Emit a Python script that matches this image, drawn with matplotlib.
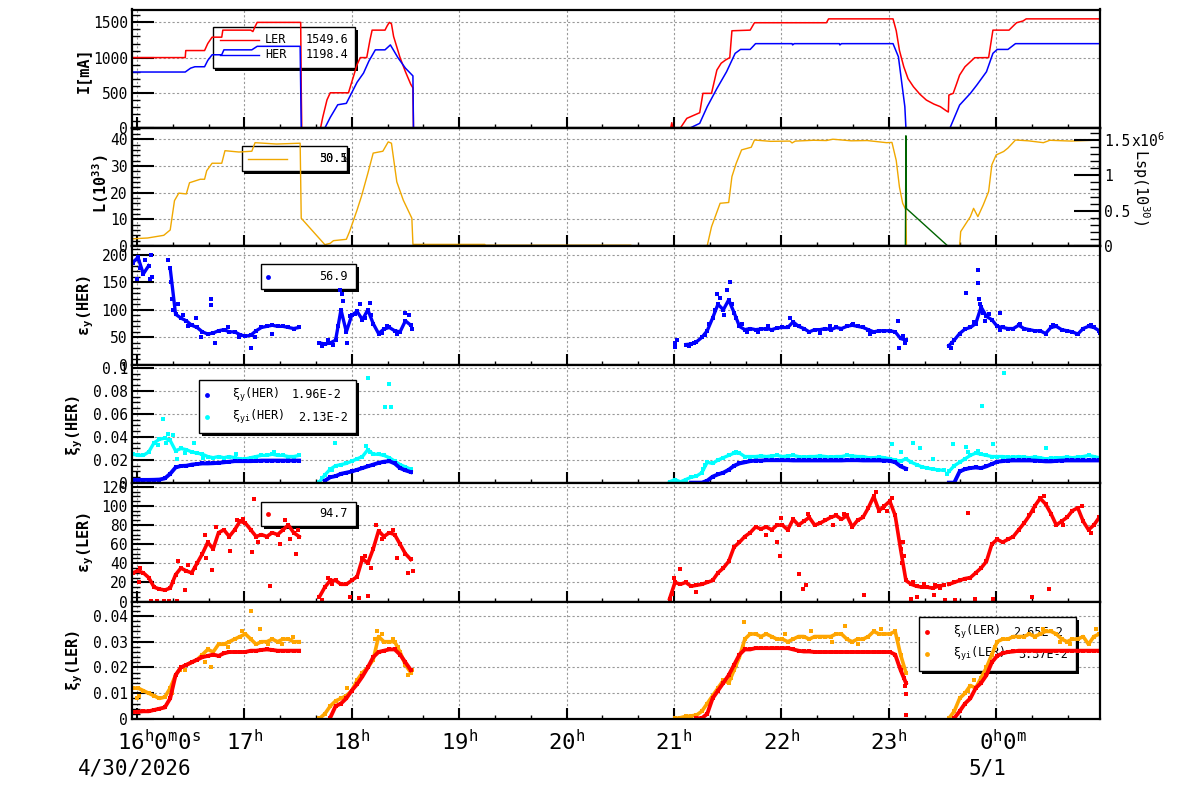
import numpy as np
import matplotlib
matplotlib.use("Agg")
import matplotlib.pyplot as plt
from matplotlib.ticker import MultipleLocator, FuncFormatter, NullFormatter
from matplotlib.patches import Rectangle
from matplotlib.lines import Line2D

plt.rcParams["font.family"] = ["DejaVu Sans Mono"]
plt.rcParams["mathtext.default"] = "regular"

nan = np.nan

# time axis: hours after 16:00 on 4/30/2026
tick_labels = [r"$16^{h}0^{m}0^{s}$", r"$17^{h}$", r"$18^{h}$", r"$19^{h}$", r"$20^{h}$",
               r"$21^{h}$", r"$22^{h}$", r"$23^{h}$", r"$0^{h}0^{m}$"]
date_labels = {0: "4/30/2026", 8: "5/1"}

# ---- panel 1: beam currents [mA] (vertices of the traces)
ler_t = [-0.04, 0.45, 0.455, 0.63, 0.66, 0.70, 0.79, 0.80, 1.06, 1.08, 1.10, 1.12, 1.52, 1.525, 1.53,
         1.535, 1.71, 1.73, 1.77, 1.80, 1.97, 2.01, 2.05, 2.08, 2.14, 2.17, 2.19, 2.31, 2.33, 2.35,
         2.37, 2.39, 2.42, 2.45, 2.50, 2.55, 2.57, 2.575, 4.97, 4.98, 4.99, 5.06, 5.12, 5.24, 5.27,
         5.35, 5.40, 5.44, 5.48, 5.52, 5.54, 5.71, 5.75, 6.42, 6.44, 7.04, 7.07, 7.10, 7.14, 7.18,
         7.23, 7.29, 7.35, 7.42, 7.48, 7.54, 7.555, 7.56, 7.60, 7.63, 7.66, 7.71, 7.76, 7.80, 7.93,
         7.97, 8.12, 8.16, 8.19, 8.25, 8.28, 8.97]
ler_i = [1000, 1000, 1100, 1100, 1200, 1290, 1290, 1390, 1390, 1370, 1440, 1500, 1500, 1500, 560,
         0, 0, 150, 400, 500, 500, 700, 900, 1000, 1000, 1250, 1390, 1390, 1450, 1500,
         1480, 1300, 1150, 1000, 800, 620, 570, 0, 0, 75, 0, 0, 137, 217, 492,
         492, 823, 920, 965, 1000, 1381, 1390, 1495, 1495, 1550, 1550, 1380, 1100, 870, 700,
         586, 480, 397, 340, 303, 240, 227, 468, 492, 620, 752, 870, 941, 998, 1000,
         1390, 1390, 1450, 1495, 1520, 1550, 1550]
her_t = [-0.04, 0.45, 0.50, 0.54, 0.63, 0.66, 0.70, 0.79, 0.81, 1.07, 1.10, 1.12, 1.52, 1.53, 1.75,
         1.80, 1.87, 1.95, 2.00, 2.05, 2.11, 2.16, 2.22, 2.31, 2.36, 2.43, 2.50, 2.57, 2.575, 5.15,
         5.24, 5.31, 5.40, 5.49, 5.57, 5.62, 5.71, 5.76, 6.10, 6.105, 6.12, 6.54, 6.545, 6.56, 7.04,
         7.09, 7.12, 7.15, 7.16, 7.57, 7.66, 7.76, 7.82, 7.91, 7.97, 8.01, 8.11, 8.18, 8.97]
her_i = [795, 795, 850, 870, 870, 960, 1040, 1040, 1110, 1110, 1140, 1160, 1160, 0, 0,
         150, 330, 350, 500, 650, 780, 950, 1110, 1110, 1180, 1000, 850, 740, 0, 0,
         66, 303, 560, 799, 1060, 1116, 1116, 1198, 1198, 1180, 1198, 1198, 1180, 1198, 1198,
         1012, 657, 303, 0, 0, 326, 492, 610, 799, 1060, 1116, 1116, 1198, 1198]

# ---- panel 2: luminosity L [1e33] and Lsp [1e30]
lum_t = [-0.04, 0.10, 0.25, 0.31, 0.35, 0.39, 0.46, 0.49, 0.59, 0.63, 0.65, 0.70, 0.79, 0.82, 0.95,
         1.07, 1.10, 1.30, 1.52, 1.53, 1.75, 1.80, 1.83, 1.95, 1.98, 2.05, 2.09, 2.15, 2.20, 2.29,
         2.34, 2.37, 2.42, 2.48, 2.56, 2.57, 3.24, 3.245, 4.60, 4.605, 5.31, 5.35, 5.43, 5.51, 5.54,
         5.58, 5.63, 5.72, 5.75, 5.90, 6.08, 6.10, 6.13, 6.30, 6.42, 6.48, 6.65, 6.80, 6.98, 7.03,
         7.07, 7.10, 7.13, 7.16, 7.165, 7.66, 7.67, 7.76, 7.79, 7.83, 7.88, 7.93, 7.96, 8.00, 8.07,
         8.11, 8.18, 8.30, 8.44, 8.50, 8.70, 8.97]
lum_v = [2.7, 3.0, 4.0, 6.0, 17.0, 19.8, 19.5, 23.7, 25.0, 25.0, 28.2, 31.0, 31.0, 35.7, 35.2,
         35.5, 38.7, 38.2, 38.5, 10.4, 0.5, 1.0, 2.0, 2.5, 5.4, 13.5, 18.5, 27.2, 34.8, 35.5,
         39.0, 38.5, 24.0, 17.2, 10.4, 0.6, 0.6, 0.3, 0.3, 0.1, 0.1, 7.2, 16.0, 16.3, 26.0,
         31.0, 36.0, 37.0, 39.7, 39.2, 39.3, 38.6, 39.3, 39.6, 39.5, 40.0, 39.4, 39.5, 38.7, 38.8,
         32.0, 22.0, 16.0, 13.5, 0.0, 0.0, 5.4, 11.0, 14.1, 11.0, 15.4, 20.4, 30.4, 34.1, 35.4,
         36.7, 39.7, 39.4, 38.7, 39.6, 39.3, 39.7]
lsp_t = [7.155, 7.16, 7.165, 7.55]
lsp_v = [0.0, 1.56e6, 0.53e6, 0.0]

# ---- scatter series, sampled every DT hours from the start of each run segment
DT = 0.05
T_A, T_B, T_C, T_D = -0.04, 1.70, 4.96, 7.56

# panel 3: vertical emittance HER
eyh_a = [185, 195, 165, 180, nan, nan, nan, 175, 92, 85, 80, 72, 68, 60, 56, 58, 62, 64, 60, 60,
         55, 52, 54, 62, 68, 70, 72, 70, 70, 68, 66, 68]
eyh_b = [40, 38, 40, 45, 100, 60, 90, 97, 82, 100, 75, 57, 65, 68, 62, 60, 80, 72]
eyh_c = [nan, 40, nan, 37, 38, 42, 50, 62, 85, 110, 100, 118, 95, 70, 64, 66, 64, 65, 66, 64,
         67, 68, 68, 78, 70, 66, 60, 64, 64, 66, 64, 68, 66, 70, 72, 70, 68, 64, 60, 62,
         62, 62, 60, 48, 45]
eyh_d = [35, 45, 57, 65, 68, 75, 105, 88, 82, 70, 68, 66, 66, 72, 66, 64, 62, 62, 57, 68,
         70, 64, 62, 60, 56, 66, 70, 68, 62]
eyh_xt = [0.0, 0.03, 0.08, 0.12, 0.13, 0.14, 0.29, 0.32, 0.33, 0.34, 0.38, 0.43, 0.48, 0.55, 0.60,
          0.69, 0.69, 0.73, 0.85, 0.95, 1.06, 1.10, 1.26,
          1.72, 1.78, 1.83, 1.87, 1.89, 1.91, 1.92, 1.96, 1.98, 2.03, 2.08, 2.12, 2.17, 2.18, 2.28,
          2.33, 2.42, 2.50, 2.53, 2.56,
          5.01, 5.03, 5.14, 5.19, 5.29, 5.33, 5.38, 5.40, 5.43, 5.47, 5.49, 5.52, 5.54, 5.58, 5.63,
          5.68, 5.78, 5.88, 6.08, 6.13, 6.36, 6.45, 6.67, 6.83, 7.09, 7.10, 7.13, 7.15,
          7.58, 7.59, 7.72, 7.79, 7.83, 7.835, 7.84, 7.85, 7.88, 7.90, 7.93, 8.04, 8.04, 8.22, 8.53,
          8.75, 8.88, 8.97]
eyh_xv = [155, 175, 190, 155, 200, 160, 190, 150, 120, 100, 110, 90, 70, 85, 50,
          120, 108, 40, 68, 50, 30, 50, 57,
          35, 45, 36, 70, 135, 128, 115, 40, 88, 92, 110, 85, 112, 90, 58,
          70, 56, 95, 90, 65,
          33, 45, 35, 40, 55, 75, 100, 128, 122, 90, 135, 150, 110, 85, 75,
          60, 60, 70, 86, 72, 58, 70, 74, 56, 80, 30, 52, 40,
          30, 40, 130, 78, 172, 148, 120, 110, 95, 80, 92, 94, 63, 75, 72,
          56, 72, 58]

# panel 4: vertical beam-beam parameter HER
xyh_a = [0.0027, 0.0027, 0.0027, 0.0027, 0.0028, 0.003, 0.004, 0.008, 0.0135, 0.0148,
         0.015, 0.016, 0.0165, 0.017, 0.017, 0.0172, 0.0175, 0.018, 0.0185, 0.019,
         0.019, 0.019, 0.019, 0.0192, 0.0195, 0.0195, 0.0195, 0.0195, 0.0195, 0.0195,
         0.0195, 0.0195]
xyh_b = [nan, 0.002, 0.005, 0.006, 0.008, 0.009, 0.010, 0.0115, 0.013, 0.0145, 0.016, 0.0175,
         0.0185, 0.019, 0.017, 0.013, 0.011, 0.0095]
xyh_c = [nan, nan, nan, nan, 0.0003, 0.0003, 0.0003, 0.002, 0.0055, 0.0075,
         0.009, 0.0115, 0.015, 0.017, 0.018, 0.019, 0.0195, 0.0195, 0.0198, 0.0198,
         0.0198, 0.0198, 0.0198, 0.0196, 0.0196, 0.0196, 0.0196, 0.0196, 0.0196, 0.0196,
         0.0196, 0.0196, 0.0196, 0.0198, 0.0198, 0.0198, 0.0196, 0.0196, 0.0196, 0.0196,
         0.0195, 0.0193, 0.018, 0.0145, 0.0125]
xyh_d = [0.0003, 0.0003, 0.010, 0.012, 0.013, 0.0135, 0.013, 0.0145, 0.0165, 0.0185,
         0.019, 0.0195, 0.0196, 0.0196, 0.0196, 0.0196, 0.0195, 0.0192, 0.0188, 0.0188,
         0.0192, 0.0195, 0.0196, 0.0196, 0.0196, 0.0196, 0.0196, 0.0196, 0.0196]
xyih_a = [0.025, 0.024, 0.024, 0.027, 0.035, 0.038, 0.039, 0.037, 0.028, 0.030,
          0.029, 0.027, 0.026, 0.025, 0.023, 0.022, 0.023, 0.022, 0.023, 0.022,
          0.021, 0.021, 0.022, 0.023, 0.024, 0.024, 0.025, 0.024, 0.024, 0.023,
          0.023, 0.024]
xyih_b = [0.001, 0.007, 0.012, 0.015, 0.016, 0.017, 0.019, 0.021, 0.023, 0.029, 0.025, 0.025,
          0.024, 0.022, 0.019, 0.016, 0.014, 0.012]
xyih_c = [0.001, 0.003, 0.001, 0.003, 0.005, 0.006, 0.009, 0.018, 0.017, 0.020,
          0.022, 0.024, 0.026, 0.026, 0.023, 0.023, 0.023, 0.0235, 0.023, 0.0235,
          0.024, 0.023, 0.0235, 0.024, 0.023, 0.0225, 0.023, 0.023, 0.0235, 0.023,
          0.0225, 0.023, 0.023, 0.024, 0.0235, 0.023, 0.023, 0.022, 0.022, 0.0225,
          0.022, 0.021, 0.020, 0.019, 0.021, 0.018, 0.016, 0.014, 0.013, 0.012,
          0.0115, 0.011]
xyih_d = [0.010, 0.015, 0.018, 0.021, 0.024, 0.026, 0.025, 0.024, 0.023, 0.023,
          0.023, 0.0225, 0.0225, 0.023, 0.0225, 0.022, 0.0225, 0.022, 0.021, 0.0215,
          0.022, 0.022, 0.0225, 0.022, 0.0225, 0.023, 0.024, 0.023, 0.022]
xyih_xt = [0.20, 0.24, 0.27, 0.29, 0.34, 0.37, 0.45, 0.53, 0.62, 0.92, 1.28, 1.72, 1.82, 1.84,
           2.13, 2.15, 2.17, 2.31, 2.35, 2.37, 5.27, 5.29, 5.58, 7.03, 7.11, 7.23, 7.29, 7.41,
           7.54, 7.60, 7.72, 7.74, 7.83, 7.87, 7.97, 8.07, 8.46]
xyih_xv = [0.033, 0.056, 0.035, 0.043, 0.042, 0.021, 0.026, 0.035, 0.022, 0.025, 0.027, 0.004,
           0.011, 0.035, 0.032, 0.091, 0.027, 0.066, 0.086, 0.066, 0.012, 0.016, 0.027, 0.034,
           0.027, 0.035, 0.030, 0.021, 0.0075, 0.034, 0.031, 0.027, 0.028, 0.067, 0.034, 0.096,
           0.030]

# panel 5: vertical emittance LER
eyl_a = [30, 32, 30, 25, 15, 13, 12, 14, 28, 35, 32, 30, 40, 50, 62, 55, 72, 75, 68, 75,
         84, 82, 75, 68, 70, 68, 72, 70, 75, 80, 72, 68]
eyl_b = [5, 15, 22, 22, 18, 18, 22, 26, 45, 40, 55, 74, 68, 72, 70, 60, 50, 44]
eyl_c = [3, 20, 18, 20, 16, 17, 18, 20, 22, 30, 35, 42, 57, 62, 68, 72, 78, 76, 78, 75,
         80, 80, 75, 86, 80, 84, 88, 80, 82, 85, 88, 90, 86, 90, 78, 85, 88, 98, 110, 95,
         100, 105, 90, 55, 22, 18, 16, 15, 15, 14, 16, 17]
eyl_d = [18, 20, 22, 24, 25, 30, 35, 42, 60, 65, 62, 65, 68, 75, 82, 90, 100, 108, 102, 92,
         80, 84, 88, 95, 98, 84, 75, 80, 88]
eyl_xt = [0.02, 0.03, 0.13, 0.19, 0.25, 0.30, 0.34, 0.37, 0.38, 0.45, 0.48, 0.54, 0.63, 0.64,
          0.70, 0.74, 0.87, 0.93, 0.99, 1.07, 1.09, 1.13, 1.24, 1.33, 1.38, 1.43, 1.48, 1.50,
          1.72, 1.78, 1.82, 1.98, 2.07, 2.12, 2.15, 2.18, 2.23, 2.28, 2.38, 2.42, 2.52, 2.57,
          4.98, 5.00, 5.06, 5.21, 5.86, 5.96, 5.99, 6.00, 6.16, 6.20, 6.23, 6.25, 6.48, 6.58,
          6.77, 6.88, 6.95, 6.98, 7.03, 7.12, 7.13, 7.14,
          7.21, 7.23, 7.26, 7.33, 7.42, 7.43, 7.48, 7.52, 7.62, 7.74, 7.80, 7.97, 8.33, 8.34,
          8.45, 8.49, 8.62, 8.80, 8.88]
eyl_xv = [20, 35, 1, 1, 1, 1, 20, 1, 42, 12, 38, 35, 70, 45,
          33, 78, 53, 85, 86, 52, 107, 62, 16, 60, 85, 65, 50, 75,
          2, 25, 18, 5, 4, 48, 6, 35, 80, 65, 75, 45, 30, 32,
          8, 25, 34, 10, 70, 62, 48, 87, 29, 13, 17, 92, 80, 92,
          7, 115, 98, 95, 108, 40, 62, 48,
          3, 20, 5, 18, 7, 17, 14, 2, 2, 93, 3, 3, 5, 95,
          110, 13, 80, 100, 72]

# panel 6: vertical beam-beam parameter LER
xyl_a = [0.0027, 0.0028, 0.003, 0.003, 0.0035, 0.004, 0.0045, 0.008, 0.017, 0.020,
         0.021, 0.022, 0.023, 0.024, 0.0245, 0.025, 0.0245, 0.0255, 0.026, 0.026,
         0.026, 0.026, 0.0265, 0.0265, 0.0268, 0.027, 0.0268, 0.0265, 0.0265, 0.0265,
         0.0265, 0.0265]
xyl_b = [nan, nan, 0.0005, 0.005, 0.006, 0.008, 0.011, 0.0135, 0.0165, 0.020, 0.024, 0.026,
         0.0265, 0.027, 0.027, 0.025, 0.022, 0.019]
xyl_c = [nan, nan, nan, nan, nan, 0.0003, 0.0003, 0.002, 0.008, 0.011,
         0.014, 0.017, 0.021, 0.025, 0.027, 0.027, 0.0275, 0.0275, 0.0275, 0.0275,
         0.0275, 0.0275, 0.0275, 0.027, 0.0265, 0.0262, 0.0262, 0.026, 0.026, 0.026,
         0.026, 0.026, 0.026, 0.026, 0.026, 0.026, 0.026, 0.026, 0.026, 0.026,
         0.026, 0.026, 0.025, 0.019, 0.014]
xyl_d = [nan, 0.0003, 0.003, 0.006, 0.008, 0.012, 0.014, 0.017, 0.022, 0.0245,
         0.0255, 0.026, 0.0262, 0.0265, 0.0265, 0.0265, 0.0265, 0.0265, 0.0265, 0.0265,
         0.0265, 0.0265, 0.0265, 0.0265, 0.0265, 0.0265, 0.0265, 0.0265, 0.0265]
xyl_xt = [7.14, 7.15, 7.16, 7.165]
xyl_xv = [0.016, 0.013, 0.0096, 0.0016]
xyil_a = [0.012, 0.012, 0.011, 0.010, 0.009, 0.008, 0.0085, 0.012, 0.017, 0.020,
          0.021, 0.022, 0.023, 0.025, 0.027, 0.026, 0.029, 0.029, 0.030, 0.031,
          0.032, 0.033, 0.031, 0.029, 0.030, 0.030, 0.031, 0.030, 0.031, 0.031,
          0.030, 0.030]
xyil_b = [0.0002, 0.002, 0.005, 0.007, 0.008, 0.009, 0.011, 0.015, 0.018, 0.020, 0.023, 0.032,
          0.030, 0.030, 0.030, 0.026, 0.021, 0.018]
xyil_c = [nan, 0.0002, 0.0005, 0.001, 0.0012, 0.0015, 0.003, 0.006, 0.009, 0.012,
          0.015, 0.014, 0.019, 0.024, 0.031, 0.033, 0.033, 0.032, 0.033, 0.032,
          0.031, 0.031, 0.030, 0.031, 0.032, 0.032, 0.031, 0.032, 0.032, 0.032,
          0.032, 0.033, 0.033, 0.031, 0.030, 0.031, 0.031, 0.032, 0.034, 0.033,
          0.033, 0.033, 0.034, 0.025, 0.018]
xyil_d = [0.0002, 0.003, 0.008, 0.010, 0.013, 0.012, 0.016, 0.020, 0.025, 0.030,
          0.031, 0.031, 0.032, 0.032, 0.032, 0.033, 0.032, 0.033, 0.034, 0.034,
          0.033, 0.031, 0.030, 0.031, 0.031, 0.032, 0.029, 0.032, 0.033]
xyil_xt = [0.0, 0.02, 0.33, 0.40, 0.45, 0.63, 0.69, 0.85, 0.98, 1.06, 1.15, 1.22, 1.35, 1.45,
           1.96, 2.22, 2.24, 2.28, 2.38, 2.43, 2.52, 2.56, 5.53, 5.58, 5.64, 5.65, 6.03, 6.28,
           6.47, 6.59, 6.71, 6.93, 7.09, 7.13, 7.74, 7.79, 7.99, 8.44, 8.59, 8.69, 8.93]
xyil_xv = [0.008, 0.009, 0.010, 0.019, 0.019, 0.022, 0.020, 0.028, 0.034, 0.042, 0.035, 0.029,
           0.029, 0.032, 0.012, 0.031, 0.034, 0.033, 0.031, 0.028, 0.017, 0.019, 0.016, 0.021,
           0.028, 0.0375, 0.033, 0.034, 0.030, 0.036, 0.029, 0.035, 0.031, 0.020, 0.011, 0.015,
           0.028, 0.035, 0.030, 0.029, 0.035]

# ---------------------------------------------------------------- layout
W, H = 1200, 798
X0, X1 = 132, 1100
fig = plt.figure(figsize=(W / 100, H / 100), dpi=100)


def fpx(x, y):
    """figure pixel (from top-left) -> figure fraction"""
    return x / W, 1 - y / H


def add_panel(top, bot):
    return fig.add_axes([X0 / W, 1 - bot / H, (X1 - X0) / W, (bot - top) / H])


def style(ax, ymax, major, minor):
    ax.set_xlim(-0.0456, 8.967)
    ax.set_ylim(0, ymax)
    ax.xaxis.set_major_locator(MultipleLocator(1))
    ax.xaxis.set_minor_locator(MultipleLocator(1 / 3))
    ax.xaxis.set_major_formatter(NullFormatter())
    ax.yaxis.set_major_locator(MultipleLocator(major))
    ax.yaxis.set_minor_locator(MultipleLocator(minor))
    ax.yaxis.set_major_formatter(FuncFormatter(lambda v, p: f"{v:g}"))
    ax.tick_params(axis="x", which="major", direction="in", length=8, width=1.5)
    ax.tick_params(axis="x", which="minor", direction="in", length=3, width=1)
    ax.tick_params(axis="y", which="major", direction="in", length=16, width=1.5,
                   labelsize=10.5, pad=3)
    ax.tick_params(axis="y", which="minor", direction="in", length=6, width=1)
    ax.grid(True, which="major", ls=(0, (2, 2)), color="#999999", lw=0.8)
    ax.set_axisbelow(True)
    for s in ax.spines.values():
        s.set_linewidth(1.6)


def scatter_series(ax, parts, xt, xv, color, band):
    # each run segment: sampled points, joined so the dense band reads as in the logger plot
    for t0, vals in zip((T_A, T_B, T_C, T_D), parts):
        t = t0 + DT * np.arange(len(vals))
        ax.plot(t, vals, "s-", ms=2.6, mew=0, lw=band, color=color, zorder=2)
    if xt:
        ax.plot(xt, xv, "s", ms=2.6, mew=0, color=color, zorder=2)


def legend_box(ax, x0, y0, x1, y1):
    fx0, fy1 = fpx(x0, y0)
    fx1, fy0 = fpx(x1, y1)
    ax.add_patch(Rectangle((fx0 + 2.5 / W, fy0 - 2.5 / H), fx1 - fx0, fy1 - fy0,
                           transform=fig.transFigure, facecolor="black", lw=0,
                           zorder=1, clip_on=False))
    ax.add_patch(Rectangle((fx0, fy0), fx1 - fx0, fy1 - fy0, transform=fig.transFigure,
                           facecolor="white", edgecolor="black", lw=1, zorder=1.1,
                           clip_on=False))


def legend_text(ax, x, y, s, ha="left"):
    fx, fy = fpx(x, y)
    ax.text(fx, fy, s, transform=fig.transFigure, ha=ha, va="center", fontsize=8.5,
            zorder=1.2, clip_on=False)


def legend_line(ax, x0, x1, y, color):
    fx0, fy = fpx(x0, y)
    fx1, _ = fpx(x1, y)
    ax.add_line(Line2D([fx0, fx1], [fy, fy], transform=fig.transFigure, color=color,
                       lw=1, zorder=1.2, clip_on=False))


def legend_dot(ax, x, y, color):
    fx, fy = fpx(x, y)
    ax.add_line(Line2D([fx], [fy], transform=fig.transFigure, marker="o", ms=3.5, mew=0,
                       ls="none", color=color, zorder=1.2, clip_on=False))


def ylabel(x, y, s, rot=90, bold=True):
    fx, fy = fpx(x, y)
    fig.text(fx, fy, s, rotation=rot, ha="center", va="center", fontsize=11,
             fontweight="bold" if bold else "normal")


BLUE, RED, CYAN = "#0000ff", "#ff0000", "#00ffff"
LUMC, ORANGE, GREEN = "#f0a800", "#ffa500", "#006400"

# panel 1
ax1 = add_panel(9.5, 128)
style(ax1, 1683, 500, 100)
ax1.plot(ler_t, ler_i, color=RED, lw=1.1, zorder=2)
ax1.plot(her_t, her_i, color=BLUE, lw=1.1, zorder=2.1)
legend_box(ax1, 213, 27, 355, 68)
legend_line(ax1, 220, 259, 39.5, RED)
legend_text(ax1, 265, 39.5, "LER")
legend_text(ax1, 348, 39.5, "1549.6", ha="right")
legend_line(ax1, 220, 259, 55, BLUE)
legend_text(ax1, 265, 55, "HER")
legend_text(ax1, 348, 55, "1198.4", ha="right")
ylabel(83, 70, "I[mA]")

# panel 2
ax2 = add_panel(128, 246)
style(ax2, 44.2, 10, 2)
ax2.plot(lum_t, lum_v, color=LUMC, lw=1.0, zorder=2)
legend_box(ax2, 242, 146, 347, 171)
legend_line(ax2, 248, 287, 158.5, LUMC)
legend_text(ax2, 348, 158.5, "30.1", ha="right")
legend_text(ax2, 348, 158.5, "50.5", ha="right")
ylabel(101, 184, "L(10$^{33}$)")
ax2r = ax2.twinx()
ax2r.set_ylim(0, 1.67e6)
ax2r.plot(lsp_t, lsp_v, color=GREEN, lw=1.0)
ax2r.yaxis.set_major_locator(MultipleLocator(0.5e6))
ax2r.yaxis.set_minor_locator(MultipleLocator(0.1e6))
ax2r.yaxis.set_major_formatter(FuncFormatter(lambda v, p: f"{v / 1e6:g}"))
ax2r.tick_params(axis="y", which="major", direction="in", length=19, width=1.5,
                 labelsize=10.5, pad=3)
ax2r.tick_params(axis="y", which="minor", direction="in", length=7, width=1)
for s in ax2r.spines.values():
    s.set_linewidth(1.6)
fx, fy = fpx(1131, 141)
fig.text(fx, fy, "x10$^{6}$", ha="left", va="center", fontsize=10.5)
ylabel(1141, 187, "Lsp(10$^{30}$)", rot=-90, bold=False)

# panel 3
ax3 = add_panel(246, 365)
style(ax3, 215.5, 50, 10)
scatter_series(ax3, (eyh_a, eyh_b, eyh_c, eyh_d), eyh_xt, eyh_xv, BLUE, 2.4)
legend_box(ax3, 261, 264, 356, 289)
legend_dot(ax3, 268, 276.5, BLUE)
legend_text(ax3, 348, 276.5, "56.9", ha="right")
ylabel(86, 305, "ε$_y$(HER)")

# panel 4
ax4 = add_panel(365, 483)
style(ax4, 0.1026, 0.02, 0.005)
scatter_series(ax4, (xyih_a, xyih_b, xyih_c, xyih_d), xyih_xt, xyih_xv, CYAN, 2.4)
scatter_series(ax4, (xyh_a, xyh_b, xyh_c, xyh_d), [], [], BLUE, 2.8)
legend_box(ax4, 199, 380, 356, 433)
legend_dot(ax4, 207, 395, BLUE)
legend_text(ax4, 232, 395, "ξ$_y$(HER)")
legend_text(ax4, 342, 395, "1.96E-2", ha="right")
legend_dot(ax4, 207, 417, CYAN)
legend_text(ax4, 232, 417, "ξ$_{yi}$(HER)")
legend_text(ax4, 348, 417, "2.13E-2", ha="right")
ylabel(75, 425, "ξ$_y$(HER)")

# panel 5
ax5 = add_panel(483, 601.5)
style(ax5, 124, 20, 5)
scatter_series(ax5, (eyl_a, eyl_b, eyl_c, eyl_d), eyl_xt, eyl_xv, RED, 2.6)
legend_box(ax5, 261, 502, 356, 526)
legend_dot(ax5, 268, 513.5, RED)
legend_text(ax5, 348, 513.5, "94.7", ha="right")
ylabel(86, 542, "ε$_y$(LER)")

# panel 6
ax6 = add_panel(601.5, 719)
style(ax6, 0.0456, 0.01, 0.002)
legend_box(ax6, 919, 617, 1076, 671)
legend_dot(ax6, 927, 632, RED)
legend_text(ax6, 953, 632, "ξ$_y$(LER)")
legend_text(ax6, 1063, 632, "2.65E-2", ha="right")
legend_dot(ax6, 927, 654, ORANGE)
legend_text(ax6, 953, 654, "ξ$_{yi}$(LER)")
legend_text(ax6, 1068, 654, "3.37E-2", ha="right")
scatter_series(ax6, (xyil_a, xyil_b, xyil_c, xyil_d), xyil_xt, xyil_xv, ORANGE, 2.6)
scatter_series(ax6, (xyl_a, xyl_b, xyl_c, xyl_d), xyl_xt, xyl_xv, RED, 2.8)
ylabel(75, 660, "ξ$_y$(LER)")

# time labels under the bottom panel
for h, lab in enumerate(tick_labels):
    if h == 0:
        ax6.annotate(lab, xy=(h, 0), xycoords=("data", "axes fraction"),
                     xytext=(-14.4, -22.3), textcoords="offset points",
                     ha="left", va="baseline", fontsize=16)
    else:
        dx = 5 if h == 8 else 0
        ax6.annotate(lab, xy=(h, 0), xycoords=("data", "axes fraction"),
                     xytext=(dx, -22.3), textcoords="offset points",
                     ha="center", va="baseline", fontsize=16)
for h, lab in date_labels.items():
    dx = -1.8 if h == 0 else -6.5
    ax6.annotate(lab, xy=(h, 0), xycoords=("data", "axes fraction"),
                 xytext=(dx, -40.3), textcoords="offset points",
                 ha="center", va="baseline", fontsize=15)

fig.savefig("out.png", dpi=100)
